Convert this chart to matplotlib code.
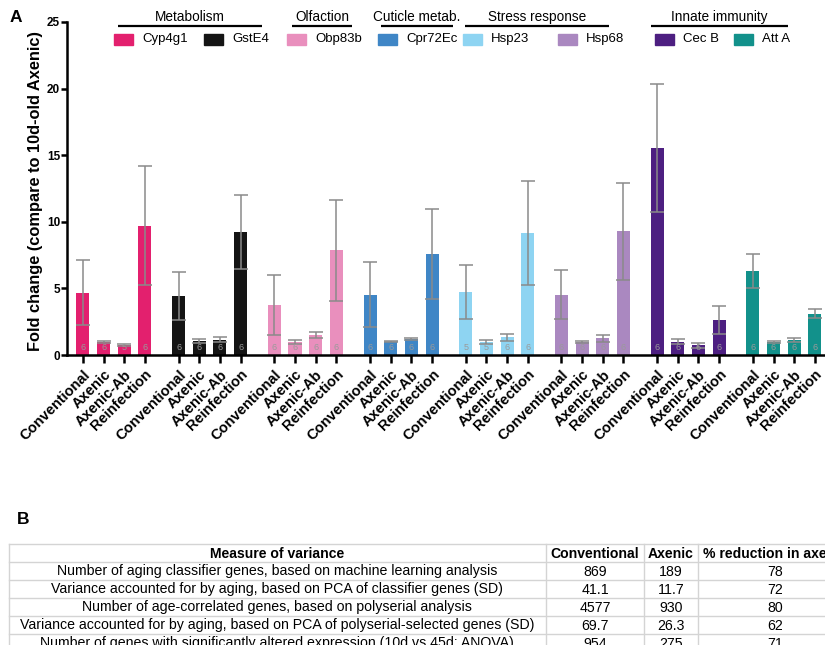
import numpy as np
import matplotlib
matplotlib.use('Agg')
import matplotlib.pyplot as plt
from matplotlib.patches import Rectangle

plt.rcParams['font.family'] = ['Liberation Sans', 'DejaVu Sans']

# genes and conditions
genes = ['Cyp4g1', 'GstE4', 'Obp83b', 'Cpr72Ec', 'Hsp23', 'Hsp68', 'Cec B', 'Att A']
colors = ['#E3206E', '#141414', '#E98FBD', '#3F86C6', '#8ED4F2', '#AA88C0', '#4D1F81', '#12918B']
conditions = ['Conventional', 'Axenic', 'Axenic-Ab', 'Reinfection']

# fold change (mean, sd, n) per condition, one value per gene
conv_mean = [4.67, 4.42, 3.76, 4.54, 4.72, 4.52, 15.55, 6.31]
conv_sd = [2.45, 1.8, 2.25, 2.45, 2.05, 1.85, 4.8, 1.3]
conv_n = [6, 6, 6, 6, 5, 6, 6, 6]
axenic_mean = [1.0, 1.05, 1.0, 1.0, 1.0, 0.97, 1.0, 0.98]
axenic_sd = [0.07, 0.12, 0.15, 0.05, 0.15, 0.08, 0.18, 0.05]
axenic_n = [6, 6, 6, 6, 5, 6, 6, 6]
axab_mean = [0.75, 1.15, 1.5, 1.2, 1.33, 1.25, 0.72, 1.15]
axab_sd = [0.07, 0.18, 0.22, 0.1, 0.27, 0.25, 0.2, 0.15]
axab_n = [5, 6, 6, 6, 6, 6, 6, 6]
reinf_mean = [9.72, 9.24, 7.85, 7.57, 9.14, 9.3, 2.62, 3.1]
reinf_sd = [4.45, 2.75, 3.8, 3.4, 3.9, 3.65, 1.05, 0.35]
reinf_n = [6, 6, 6, 6, 6, 6, 6, 6]

# gene groups shown above the bars
group_titles = ['Metabolism', 'Olfaction', 'Cuticle metab.', 'Stress response', 'Innate immunity']

# table (panel B)
table_header = ['Measure of variance', 'Conventional', 'Axenic', '% reduction in axenic']
measures = ['Number of aging classifier genes, based on machine learning analysis',
            'Variance accounted for by aging, based on PCA of classifier genes (SD)',
            'Number of age-correlated genes, based on polyserial analysis',
            'Variance accounted for by aging, based on PCA of polyserial-selected genes (SD)',
            'Number of genes with significantly altered expression (10d vs 45d; ANOVA)']
conv_vals = ['869', '41.1', '4577', '69.7', '954']
axenic_vals = ['189', '11.7', '930', '26.3', '275']
reduction_vals = ['78', '72', '80', '62', '71']

W, H = 825, 645
fig = plt.figure(figsize=(W / 100, H / 100), dpi=100)

ax = fig.add_axes([67 / W, 1 - 355 / H, 1 - 67 / W, (355 - 22) / H])

step = 4.63
width = 0.63
means = np.array([conv_mean, axenic_mean, axab_mean, reinf_mean])
sds = np.array([conv_sd, axenic_sd, axab_sd, reinf_sd])
ns = np.array([conv_n, axenic_n, axab_n, reinf_n])

ticks, ticklabels = [], []
for g in range(len(genes)):
    x = g * step + np.arange(len(conditions))
    ax.bar(x, means[:, g], width=width, color=colors[g], zorder=2)
    ax.errorbar(x, means[:, g], yerr=sds[:, g], fmt='none', ecolor='#8a8a8a',
                elinewidth=1.1, capsize=5, capthick=1.1, zorder=3)
    for xi, n in zip(x, ns[:, g]):
        ax.text(xi, 0.55, str(n), ha='center', va='center', fontsize=6.5,
                color='#9a9a9a', zorder=4)
    ticks.extend(x)
    ticklabels.extend(conditions)

ax.set_xlim(-0.77, -0.77 + (W - 67) / 20.67)
ax.set_ylim(0, 25)
ax.set_yticks([0, 5, 10, 15, 20, 25])
ax.set_xticks(ticks)
ax.set_xticklabels(ticklabels, rotation=45, ha='right', rotation_mode='anchor',
                   fontsize=10.5, fontweight='bold')
for lbl in ax.get_yticklabels():
    lbl.set_fontweight('bold')
    lbl.set_fontsize(8.5)
ax.tick_params(axis='x', length=6, width=1.8, pad=3)
ax.tick_params(axis='y', length=4, width=1.8, pad=1)
for s in ['top', 'right']:
    ax.spines[s].set_visible(False)
for s in ['left', 'bottom']:
    ax.spines[s].set_linewidth(1.8)
ax.patch.set_alpha(0)

fig.text(36 / W, 1 - 191 / H, 'Fold change (compare to 10d-old Axenic)', rotation=90,
         ha='center', va='center', fontsize=11.8, fontweight='bold')

# overlay in pixel coordinates for the legend, panel letters and table
ov = fig.add_axes([0, 0, 1, 1])
ov.set_xlim(0, W)
ov.set_ylim(H, 0)
ov.axis('off')

ov.text(10, 17, 'A', fontsize=12.5, fontweight='bold', ha='left', va='center')
ov.text(17, 519, 'B', fontsize=12.5, fontweight='bold', ha='left', va='center')

header_spans = [(118, 262), (292, 352), (381, 453), (465, 609), (651, 788)]
for title, (x0, x1) in zip(group_titles, header_spans):
    ov.text((x0 + x1) / 2, 17, title, ha='center', va='center', fontsize=9.8)
    ov.plot([x0, x1], [26, 26], color='black', lw=1.6, solid_capstyle='butt')

patch_x = [114, 204, 287, 378, 463, 558, 655, 734]
for gx, name, c in zip(patch_x, genes, colors):
    ov.add_patch(Rectangle((gx, 33.5), 19, 11, color=c))
    ov.text(gx + 28, 39, name, ha='left', va='center', fontsize=9.5)

# table grid
col_edges = [9, 545.7, 644.3, 697.7, 852]
row_edges = [544, 562, 580, 598, 616, 634, 652]
grid_c = '#d4d4d4'
for y in row_edges:
    ov.plot([col_edges[0], col_edges[-1]], [y, y], color=grid_c, lw=1)
for x in col_edges:
    ov.plot([x, x], [row_edges[0], row_edges[-1]], color=grid_c, lw=1)

centers = [(col_edges[i] + col_edges[i + 1]) / 2 for i in range(4)]
for cx, t in zip(centers, table_header):
    ov.text(cx, (row_edges[0] + row_edges[1]) / 2 + 0.5, t, ha='center', va='center',
            fontsize=10.1, fontweight='bold')
rows = list(zip(measures, conv_vals, axenic_vals, reduction_vals))
for r, row in enumerate(rows):
    yc = (row_edges[r + 1] + row_edges[r + 2]) / 2 + 0.5
    for cx, t in zip(centers, row):
        ov.text(cx, yc, t, ha='center', va='center', fontsize=10.2)

fig.savefig('out.png', dpi=100)
